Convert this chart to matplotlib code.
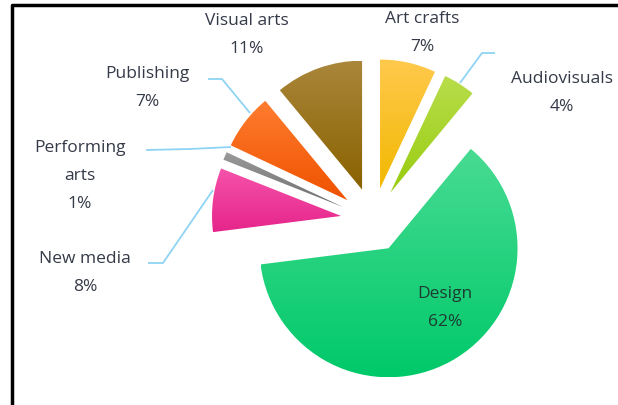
import matplotlib
matplotlib.use("Agg")
import matplotlib.pyplot as plt
import numpy as np
from matplotlib.colors import to_rgb

categories = ["Art crafts", "Audiovisuals", "Design", "New media",
              "Performing\narts", "Publishing", "Visual arts"]
shares = [7, 4, 62, 8, 1, 7, 11]
top_colors = ["#ffc94d", "#b8dd4a", "#48db92", "#f553aa", "#9a9a9a", "#ff7d30", "#a9863a"]
bot_colors = ["#f2b800", "#98cc10", "#00c96a", "#e6258b", "#6e6e6e", "#ef5200", "#8a6200"]

W, H = 618, 405
fig = plt.figure(figsize=(W / 100, H / 100), dpi=100)
ax = fig.add_axes([0, 0, 1, 1])

center = (373, 220)
radius = 129
explode_frac = 0.25
wedges, _ = ax.pie(shares, center=center, radius=radius, startangle=-90,
                   counterclock=True,
                   explode=[explode_frac * radius] * len(shares),
                   wedgeprops=dict(linewidth=0, facecolor="none"))
ax.set_xlim(0, W)
ax.set_ylim(H, 0)
ax.set_aspect("equal")
ax.axis("off")

# vertical gradient fill for each wedge
for w, c1, c2 in zip(wedges, top_colors, bot_colors):
    bb = w.get_path().get_extents(w.get_patch_transform())
    x0, y0, x1, y1 = bb.x0, bb.y0, bb.x1, bb.y1
    n = 64
    t = np.linspace(0, 1, n)[:, None]
    a, b = np.array(to_rgb(c1)), np.array(to_rgb(c2))
    grad = (a[None, :] * (1 - t) + b[None, :] * t)[:, None, :]
    grad = np.repeat(grad, 2, axis=1)
    im = ax.imshow(grad, extent=(x0, x1, y1, y0), origin="upper",
                   interpolation="bilinear", zorder=2, aspect="auto")
    im.set_clip_path(w)
ax.set_xlim(0, W)
ax.set_ylim(H, 0)

txt_color = "#353a48"
font = "Open Sans"
labels = [
    ("Art crafts\n7%", 422, 33),
    ("Audiovisuals\n4%", 562, 93),
    ("Design\n62%", 445, 308),
    ("New media\n8%", 85, 273),
    ("Performing\narts\n1%", 80, 176),
    ("Publishing\n7%", 147, 88),
    ("Visual arts\n11%", 247, 35),
]
for i, (txt, x, y) in enumerate(labels):
    col = "#1e3b32" if i == 2 else txt_color
    ax.text(x, y, txt, ha="center", va="center", fontsize=12.5,
            family=font, color=col, linespacing=2.0, zorder=5)

# leader lines
line_col = "#8fd4f5"
leaders = [
    ([495, 482, 460], [53, 53, 83]),
    ([148, 163, 213], [263, 263, 190]),
    ([146, 190, 231], [150, 149, 147]),
    ([208, 222, 250], [79, 79, 113]),
]
for xs, ys in leaders:
    ax.plot(xs, ys, color=line_col, lw=1.3, zorder=1, solid_capstyle="butt")

# border
ax.plot([11.5, 11.5, W + 5], [H + 5, 4.5, 4.5], color="black", lw=2.5,
        zorder=6, clip_on=False)

fig.savefig("out.png", dpi=100)
